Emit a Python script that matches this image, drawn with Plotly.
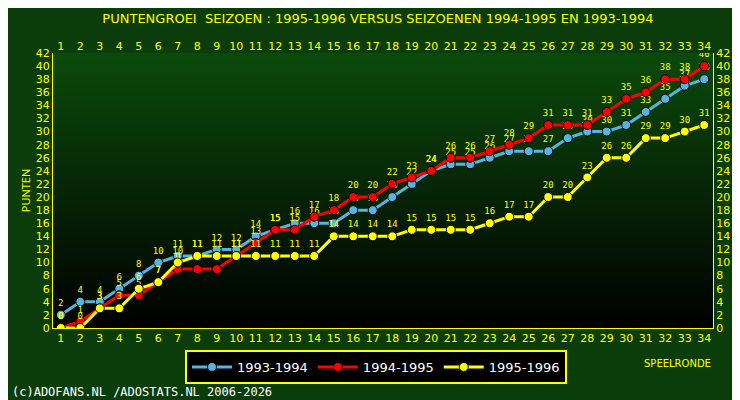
import plotly.graph_objects as go

rounds = list(range(1, 35))
s9394 = [2,4,4,6,8,10,11,11,12,12,14,15,16,16,16,18,18,20,22,24,25,25,26,27,27,27,29,30,30,31,33,35,37,38]
s9495 = [0,1,3,5,5,7,9,9,9,11,13,15,15,17,18,20,20,22,23,24,26,26,27,28,29,31,31,31,33,35,36,38,38,40]
s9596 = [0,0,3,3,6,7,10,11,11,11,11,11,11,11,14,14,14,14,15,15,15,15,16,17,17,20,20,23,26,26,29,29,30,31]
names = ["1993-1994", "1994-1995", "1995-1996"]
colors = ["#55b4e0", "#ff0000", "#ffff00"]

XR = [0.6, 34.45]
fig = go.Figure()
fig.add_trace(go.Scatter(x=[XR[0], XR[1], XR[1], XR[0], XR[0]], y=[0, 0, 42, 42, 0], mode="lines",
                         line=dict(width=0), fill="toself", showlegend=False, hoverinfo="skip",
                         fillgradient=dict(type="vertical", colorscale=[[0, "#000000"], [1, "#0b4a0b"]])))
for n, s, c in zip(names, [s9394, s9495, s9596], colors):
    fig.add_trace(go.Scatter(x=rounds, y=s, name=n, mode="lines+markers+text",
                             line=dict(color=c, width=3),
                             marker=dict(size=9, color=c, line=dict(color="black", width=1)),
                             text=[str(v) for v in s], textposition="top center",
                             textfont=dict(color="#ffff00", size=9, family="DejaVu Sans Mono")))
fig.add_trace(go.Scatter(x=[1], y=[0], xaxis="x2", yaxis="y2", mode="markers",
                         marker=dict(opacity=0), showlegend=False, hoverinfo="skip"))

tick = dict(color="#ffff00", size=11, family="DejaVu Sans")
fig.update_layout(
    width=740, height=400, margin=dict(l=45, r=35, t=45, b=80, autoexpand=False),
    paper_bgcolor="#0b3d0b", plot_bgcolor="#000000",
    title=dict(text="PUNTENGROEI  SEIZOEN : 1995-1996 VERSUS SEIZOENEN 1994-1995 EN 1993-1994",
               x=0.5, y=0.985, yanchor="top", font=dict(color="#ffff00", size=13, family="DejaVu Sans")),
    xaxis=dict(range=XR, tickmode="array", tickvals=rounds, showgrid=False, zeroline=False, automargin=False,
               tickfont=tick, showline=True, linecolor="#ffff00", ticks=""),
    xaxis2=dict(range=XR, tickmode="array", tickvals=rounds, overlaying="x", side="top", automargin=False,
                showgrid=False, zeroline=False, tickfont=tick),
    yaxis=dict(range=[0, 42], dtick=2, gridcolor="#ffffff", gridwidth=1, zeroline=False, tickfont=tick,
               showline=True, linecolor="#ffff00", automargin=False,
               title=dict(text="PUNTEN", font=dict(color="#ffff00", size=11), standoff=2)),
    yaxis2=dict(range=[0, 42], dtick=2, overlaying="y", side="right", showgrid=False, zeroline=False,
                tickfont=tick, showline=True, linecolor="#ffff00", automargin=False),
    legend=dict(orientation="h", x=0.2, y=-0.08, xanchor="left", yanchor="top", bgcolor="#000000",
                bordercolor="#ffff00", borderwidth=2, font=dict(color="white", size=13, family="DejaVu Sans"),
                itemwidth=40, tracegroupgap=0),
    annotations=[
        dict(text="SPEELRONDE", x=1.0, y=-0.1, xref="paper", yref="paper", xanchor="right", yanchor="top",
             showarrow=False, font=dict(color="#ffff00", size=10, family="DejaVu Sans")),
        dict(text="(c)ADOFANS.NL /ADOSTATS.NL 2006-2026", x=-0.065, y=-0.265, xref="paper", yref="paper",
             xanchor="left", yanchor="bottom", showarrow=False,
             font=dict(color="white", size=12, family="DejaVu Sans Mono")),
    ],
)
fig.write_html("out.html")
